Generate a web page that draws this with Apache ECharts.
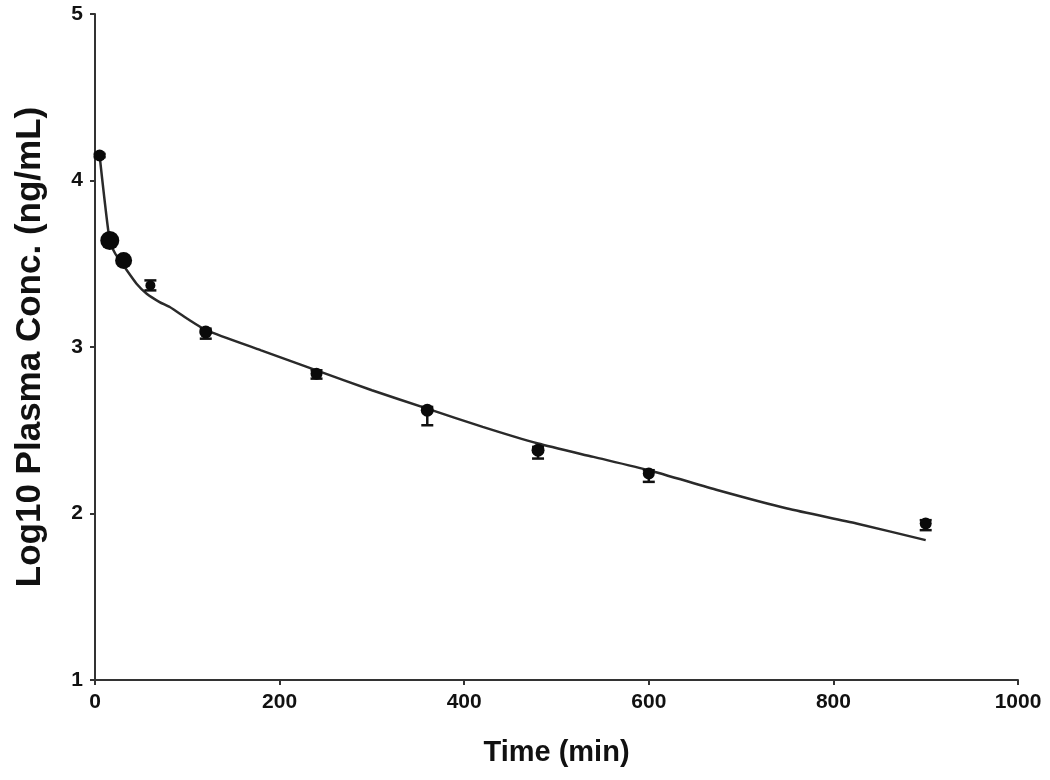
<!DOCTYPE html>
<html>
<head>
<meta charset="utf-8">
<script src="https://cdn.jsdelivr.net/npm/echarts@6/dist/echarts.min.js"></script>
<style>
  html, body { margin: 0; padding: 0; background: #fff; }
  #chart { width: 1050px; height: 780px; }
</style>
</head>
<body>
<div id="chart"></div>
<script>
// observed points (time in min, log10 conc)
const times = [5, 16, 31, 60, 120, 240, 360, 480, 600, 900]
const means = [4.15, 3.64, 3.52, 3.37, 3.09, 2.84, 2.62, 2.38, 2.24, 1.94]
const errDown = [0.01, 0.02, 0.02, 0.03, 0.04, 0.03, 0.09, 0.05, 0.05, 0.04]
const errUp = [0.01, 0.02, 0.02, 0.03, 0.02, 0.02, 0.02, 0.02, 0.02, 0.02]
const markerSizes = [12, 19, 17, 10, 13, 12, 13, 13, 12, 12]

// fitted curve
const fitTimes = [5, 10, 16, 22, 32, 45, 56, 70, 81, 100, 121, 180, 240, 300, 360, 420, 480, 540, 600, 675, 750, 825, 900]
const fitValues = [4.15, 3.90, 3.64, 3.56, 3.48, 3.38, 3.32, 3.27, 3.24, 3.17, 3.10, 2.98, 2.86, 2.74, 2.63, 2.52, 2.42, 2.34, 2.26, 2.14, 2.03, 1.94, 1.84]

const xTicks = [0, 200, 400, 600, 800, 1000]
const yTicks = [1, 2, 3, 4, 5]

let chart = echarts.init(document.getElementById('chart'))

const points = times.map((t, i) => [t, means[i]])
const bars = times.map((t, i) => [t, means[i] - errDown[i], means[i] + errUp[i]])
const fit = fitTimes.map((t, i) => [t, fitValues[i]])

const labelFont = {
    fontFamily: 'Liberation Sans, Arial, sans-serif',
    fontWeight: 'bold',
    color: '#111',
}

chart.setOption({
    animation: false,
    backgroundColor: '#fff',
    grid: { left: 95, right: 32, top: 14, bottom: 100 },
    xAxis: {
        type: 'value',
        min: 0,
        max: 1000,
        interval: 200,
        name: 'Time (min)',
        nameLocation: 'middle',
        nameGap: 58,
        nameTextStyle: Object.assign({ fontSize: 29 }, labelFont),
        axisLine: { show: true, onZero: false, lineStyle: { color: '#333', width: 2 } },
        axisTick: { show: true, inside: false, length: 5, lineStyle: { color: '#333', width: 2 } },
        axisLabel: Object.assign({ fontSize: 21, margin: 12,
            formatter: v => xTicks.includes(v) ? String(v) : '' }, labelFont),
        splitLine: { show: false },
    },
    yAxis: {
        type: 'value',
        min: 1,
        max: 5,
        interval: 1,
        name: 'Log10 Plasma Conc. (ng/mL)',
        nameLocation: 'middle',
        nameGap: 47,
        nameRotate: 90,
        nameTextStyle: Object.assign({ fontSize: 35 }, labelFont),
        axisLine: { show: true, onZero: false, lineStyle: { color: '#333', width: 2 } },
        axisTick: { show: true, length: 5, lineStyle: { color: '#333', width: 2 } },
        axisLabel: Object.assign({ fontSize: 21, margin: 12,
            formatter: v => yTicks.includes(v) ? String(v) : '' }, labelFont),
        splitLine: { show: false },
    },
    series: [
        {
            name: 'fit',
            type: 'line',
            data: fit,
            showSymbol: false,
            smooth: 0.2,
            lineStyle: { color: '#2a2a2a', width: 2.5 },
            z: 2,
        },
        {
            name: 'error',
            type: 'custom',
            data: bars,
            z: 3,
            renderItem: (params, api) => {
                let x = api.coord([api.value(0), api.value(1)])[0]
                let lo = api.coord([api.value(0), api.value(1)])[1]
                let hi = api.coord([api.value(0), api.value(2)])[1]
                let half = 6
                let style = { stroke: '#111', lineWidth: 2.5 }
                return {
                    type: 'group',
                    children: [
                        { type: 'line', shape: { x1: x, y1: lo, x2: x, y2: hi }, style: style },
                        { type: 'line', shape: { x1: x - half, y1: lo, x2: x + half, y2: lo }, style: style },
                        { type: 'line', shape: { x1: x - half, y1: hi, x2: x + half, y2: hi }, style: style },
                    ]
                }
            }
        },
        {
            name: 'observed',
            type: 'scatter',
            data: points,
            symbol: 'circle',
            symbolSize: (val, params) => markerSizes[params.dataIndex],
            itemStyle: { color: '#0a0a0a', opacity: 1 },
            z: 4,
        },
    ]
})
</script>
</body>
</html>
